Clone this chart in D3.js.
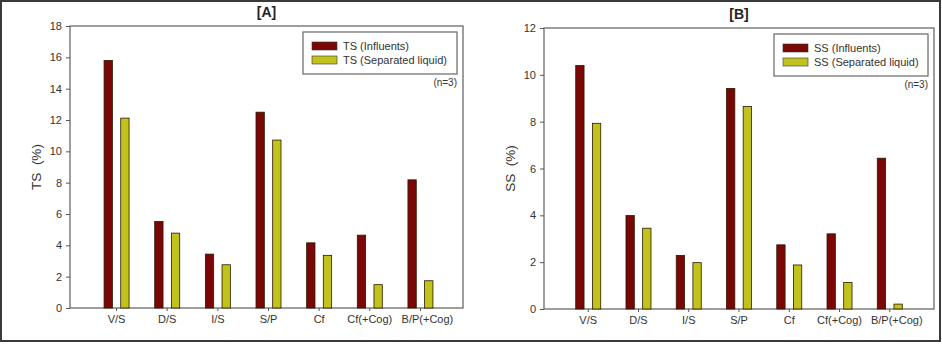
<!DOCTYPE html>
<html><head><meta charset="utf-8">
<script src="https://cdn.jsdelivr.net/npm/d3@7"></script>
<style>body{margin:0;background:#fff}svg{display:block}text{font-family:"Liberation Sans",Arial,sans-serif}</style>
</head><body>
<svg id="c" width="942" height="344"></svg>
<script>
const categories = ["V/S","D/S","I/S","S/P","Cf","Cf(+Cog)","B/P(+Cog)"];
const tsInfluents = [15.8,5.52,3.44,12.5,4.16,4.65,8.18];
const tsSeparated = [12.12,4.78,2.76,10.72,3.36,1.49,1.74];
const ssInfluents = [10.4,3.99,2.29,9.42,2.74,3.21,6.44];
const ssSeparated = [7.93,3.45,1.98,8.65,1.88,1.13,0.21];
const tsTicks = [0,2,4,6,8,10,12,14,16,18];
const ssTicks = [0,2,4,6,8,10,12];
const colors = ["#7b0606","#c2c21c"];

const svg = d3.select("#c");
svg.append("rect").attr("x",1).attr("y",1).attr("width",939).attr("height",340)
  .attr("fill","#fff").attr("stroke","#3a3a3a").attr("stroke-width",2);

function panel(cfg){
  const g = svg.append("g");
  const {left,right,top,bottom} = cfg;
  const y = d3.scaleLinear().domain([0,cfg.max]).range([bottom,top]);
  const x = d3.scaleBand().domain(categories).range([left+cfg.shift,right+cfg.shift]).paddingInner(0).paddingOuter(0.38);
  const sub = d3.scaleBand().domain([0,1]).range([x.bandwidth()/2-12.5, x.bandwidth()/2+12.5]).paddingInner(0.5).paddingOuter(0);
  // frame
  g.append("rect").attr("x",left).attr("y",top).attr("width",right-left).attr("height",bottom-top)
    .attr("fill","none").attr("stroke","#6b6b6b").attr("stroke-width",1.3);
  // bars
  const series = [cfg.a, cfg.b];
  series.forEach((vals,si)=>{
    g.selectAll(null).data(vals).enter().append("rect")
      .attr("x",(d,i)=>x(categories[i])+sub(si))
      .attr("width",sub.bandwidth())
      .attr("y",d=>y(d)).attr("height",d=>bottom-y(d))
      .attr("fill",colors[si]).attr("stroke","#2a1a00").attr("stroke-width",0.8);
  });
  // y axis
  const ya = g.append("g").attr("transform",`translate(${left},0)`)
    .call(d3.axisLeft(y).tickValues(cfg.ticks).tickSize(4).tickPadding(4).tickFormat(d3.format("d")));
  ya.select(".domain").remove();
  ya.selectAll("line").attr("stroke","#555");
  ya.selectAll("text").attr("font-size",11).attr("fill","#333");
  // x axis
  const xa = g.append("g").attr("transform",`translate(0,${bottom})`)
    .call(d3.axisBottom(x).tickSize(3).tickPadding(4));
  xa.select(".domain").remove();
  xa.selectAll("line").attr("stroke","#555");
  xa.selectAll("text").attr("font-size",11).attr("fill","#333")
    .attr("dx",d=>d===categories[categories.length-1]?7:0);
  // title
  g.append("text").attr("x",(left+right)/2).attr("y",top-9).attr("text-anchor","middle")
    .attr("font-size",14).attr("font-weight","bold").attr("fill","#222").text(cfg.title);
  // y label
  g.append("text").attr("transform",`translate(${left-29},${(top+bottom)/2}) rotate(-90)`)
    .attr("text-anchor","middle").attr("font-size",13.5).attr("fill","#333")
    .attr("xml:space","preserve").text(cfg.ylabel);
  // legend
  const lx = right-160, ly = top+6;
  g.append("rect").attr("x",lx).attr("y",ly).attr("width",154).attr("height",42)
    .attr("fill","#fff").attr("stroke","#666").attr("stroke-width",1.2);
  cfg.names.forEach((n,i)=>{
    g.append("rect").attr("x",lx+9).attr("y",ly+10+i*14).attr("width",25).attr("height",8)
      .attr("fill",colors[i]).attr("stroke","#333").attr("stroke-width",0.6);
    g.append("text").attr("x",lx+40).attr("y",ly+18+i*14).attr("font-size",11).attr("fill","#333").text(n);
  });
  g.append("text").attr("x",right-6).attr("y",ly+54).attr("text-anchor","end")
    .attr("font-size",10).attr("fill","#333").text("(n=3)");
}

panel({left:70,right:463,top:26,bottom:308,shift:2,max:18,ticks:tsTicks,a:tsInfluents,b:tsSeparated,
  title:"[A]",ylabel:"TS  (%)",names:["TS (Influents)","TS (Separated liquid)"]});
panel({left:544,right:934,top:28,bottom:309,shift:0,max:12,ticks:ssTicks,a:ssInfluents,b:ssSeparated,
  title:"[B]",ylabel:"SS  (%)",names:["SS (Influents)","SS (Separated liquid)"]});
</script>
</body></html>
